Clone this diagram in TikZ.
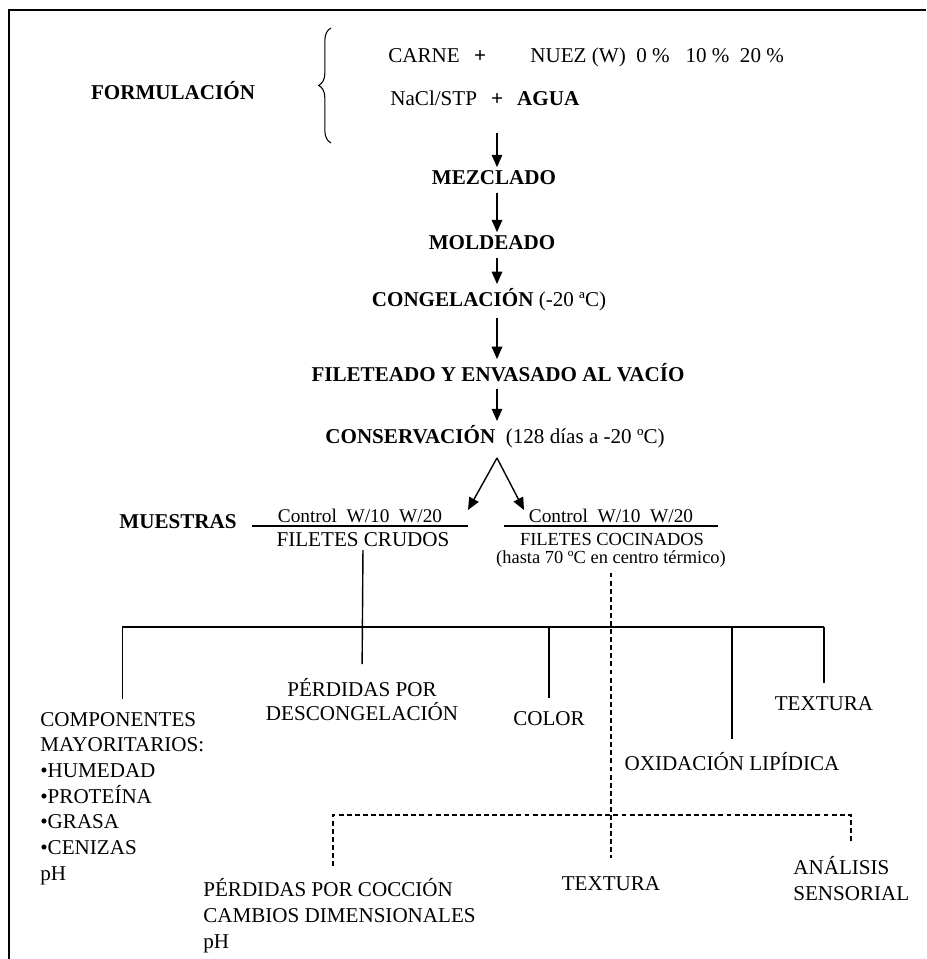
\documentclass[tikz,border=0pt]{standalone}
\usepackage{fontspec}
\setmainfont{Liberation Serif}
\usetikzlibrary{arrows.meta,decorations.pathreplacing}

\tikzset{
  paso/.style={inner sep=0pt, anchor=base, font=\fontsize{12}{14.6}\selectfont\bfseries},
  texto/.style={inner sep=0pt, anchor=base},
  chico/.style={texto, font=\fontsize{11}{13}\selectfont},
  menor/.style={texto, font=\fontsize{10.5}{12}\selectfont},
  bloque/.style={texto, align=left, anchor=base west},
  flecha/.style={line width=0.8pt, -{Triangle[length=7pt,width=6pt]}},
  flujo/.style={flecha, shorten <=4pt, shorten >=2pt},
  rama/.style={line width=0.8pt},
  rayas/.style={line width=0.8pt, dash pattern=on 2.8pt off 1.8pt},
}

\begin{document}
\begin{tikzpicture}[x=0.02cm,y=-0.02cm,font=\fontsize{12}{14.6}\selectfont]
\useasboundingbox (0,0) rectangle (926,959);
\draw[line width=1.1pt] (9,959) -- (9,10) -- (926,10);

\node[paso] (formul) at (173,100) {FORMULACIÓN};
\draw[decorate,decoration={brace,amplitude=7pt},line width=0.6pt] (331,143) -- (331,28);
\node[texto,anchor=base west] (carne) at (388,63) {CARNE};
\node[paso] (mas) at (480,63) {+};
\node[texto,anchor=base west] (nuez) at (530,63) {NUEZ (W)\ \ 0~\%\ \ \ 10~\%\ \ 20~\%};
\node[texto,anchor=base west] (nacl) at (390,106) {NaCl/STP\hspace{8pt}\textbf{+}\hspace{8pt}\textbf{AGUA}};

\coordinate (eje) at (497,0);
\coordinate (inicio) at (497,126);
\node[paso] (mezclado) at (494,185) {MEZCLADO};
\node[paso] (moldeado) at (492,250) {MOLDEADO};
\node[texto] (congel) at (489,306) {\textbf{CONGELACIÓN} (-20 ªC)};
\node[paso] (filet) at (498,381) {FILETEADO Y ENVASADO AL VACÍO};
\node[texto] (conserv) at (495,443) {\textbf{CONSERVACIÓN}\ \ (128 días a -20 ºC)};

\draw[flujo] (inicio) -- (mezclado.north -| eje);
\draw[flujo] (mezclado.south -| eje) -- (moldeado.north -| eje);
\draw[flujo] (moldeado.south -| eje) -- (congel.north -| eje);
\draw[flujo] (congel.south -| eje) -- (filet.north -| eje);
\draw[flujo] (filet.south -| eje) -- (conserv.north -| eje);

\coordinate (vertice) at (497,458);
\coordinate (puntaizq) at (468,510);
\coordinate (puntader) at (524,510);
\draw[flecha] (vertice) -- (puntaizq);
\draw[flecha] (vertice) -- (puntader);

\node[paso] (muestras) at (178,528) {MUESTRAS};
\node[chico] (ctlcrudo) at (360,522) {Control\ \ W/10\ \ W/20};
\node[chico] (ctlcocido) at (611,522) {Control\ \ W/10\ \ W/20};
\draw[rama] (252,526) -- (468,526);
\draw[rama] (504,526) -- (718,526);
\node[texto] (crudos) at (363,546) {FILETES CRUDOS};
\node[menor] (cocinados) at (612,545) {FILETES COCINADOS};
\node[menor] (hasta) at (611,563) {(hasta 70 ºC en centro térmico)};

\coordinate (bus) at (363,627);
\node[texto,align=center,font=\fontsize{12}{13.3}\selectfont] (descong) at (362,720) {PÉRDIDAS POR\\DESCONGELACIÓN};
\node[bloque] (comp) at (40,880) {COMPONENTES\\MAYORITARIOS:\\•HUMEDAD\\•PROTEÍNA\\•GRASA\\•CENIZAS\\pH};
\node[texto] (color) at (549,725) {COLOR};
\node[texto] (oxid) at (732,770) {OXIDACIÓN LIPÍDICA};
\node[texto] (textura) at (824,710) {TEXTURA};

\draw[rama,shorten <=2pt,shorten >=8pt] (crudos.south) -- (descong.north);
\draw[line width=1.1pt] (comp.north |- bus) -- (color.north |- bus);
\draw[rama] (color.north |- bus) -- (textura.north |- bus);
\foreach \n in {comp,color,oxid,textura}
  \draw[rama,shorten >=7pt] (\n.north |- bus) -- (\n.north);

\node[texto] (textura2) at (611,890) {TEXTURA};
\node[bloque] (coccion) at (203,948) {PÉRDIDAS POR COCCIÓN\\CAMBIOS DIMENSIONALES\\pH};
\node[bloque] (sensorial) at (793,900) {ANÁLISIS\\SENSORIAL};
\coordinate (dizq) at (333,815);
\coordinate (dder) at (851,815);
\draw[rayas,shorten <=3pt,shorten >=10pt] (hasta.south) -- (textura2.north);
\draw[rayas,shorten <=7pt,shorten >=8pt] (dizq |- coccion.north) -- (dizq) -- (dder) -- (dder |- sensorial.north);
\end{tikzpicture}
\end{document}
